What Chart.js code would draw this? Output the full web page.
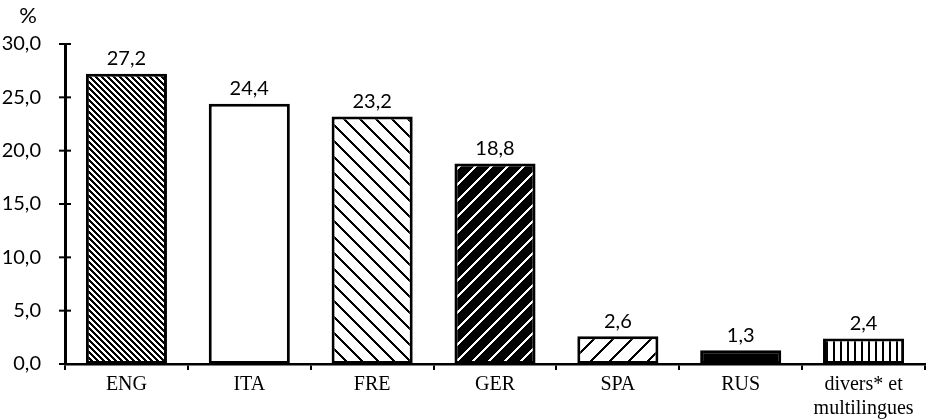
<!DOCTYPE html>
<html>
<head>
<meta charset="utf-8">
<script src="https://cdn.jsdelivr.net/npm/chart.js@4.4.0/dist/chart.umd.min.js"></script>
<style>
  html, body { margin: 0; padding: 0; background: #fff; }
  #wrap { width: 936px; height: 419px; position: relative; }
</style>
</head>
<body>
<div id="wrap"><canvas id="myChart" width="936" height="419"></canvas></div>
<script>
// data
var languages = ['ENG', 'ITA', 'FRE', 'GER', 'SPA', 'RUS', ['divers* et', 'multilingues']];
var shares = [27.2, 24.4, 23.2, 18.8, 2.6, 1.3, 2.4];
var yTicks = [0, 5, 10, 15, 20, 25, 30];
var unitLabel = '%';

var sansFont = "Lato, 'Open Sans', sans-serif";
var serifFont = "'Liberation Serif', 'DejaVu Serif', serif";

function fmt(v, d) {
  return v.toFixed(d).replace('.', ',');
}

// hatch fills, drawn pixel by pixel so the stripes stay crisp
function makePattern(size, ink, w, kind, inverted) {
  var c = document.createElement('canvas');
  c.width = size; c.height = size;
  var x = c.getContext('2d');
  var img = x.createImageData(size, size);
  for (var j = 0; j < size; j++) {
    for (var i = 0; i < size; i++) {
      var k;
      if (kind == 'back') k = ((i - j) % size + size) % size;
      else if (kind == 'fwd') k = (i + j) % size;
      else k = i;
      var on = k < w;
      if (inverted) on = !on;
      var v = on ? ink : 255;
      var p = (j * size + i) * 4;
      img.data[p] = v; img.data[p + 1] = v; img.data[p + 2] = v; img.data[p + 3] = 255;
    }
  }
  x.putImageData(img, 0, 0);
  var ctx = document.getElementById('myChart').getContext('2d');
  return ctx.createPattern(c, 'repeat');
}

var fills = [
  makePattern(6, 0, 3, 'back', false),
  '#fff',
  makePattern(16, 0, 3, 'back', false),
  makePattern(16, 0, 3, 'fwd', true),
  makePattern(19, 0, 3, 'fwd', false),
  '#000',
  makePattern(7, 0, 2, 'vert', false)
];

// value labels, % unit and crossing tick marks
var extras = {
  id: 'extras',
  afterDatasetsDraw: function(chart) {
    var ctx = chart.ctx;
    var meta = chart.getDatasetMeta(0);
    ctx.save();
    ctx.fillStyle = '#000';
    ctx.font = '20px ' + sansFont;
    ctx.textAlign = 'center';
    ctx.textBaseline = 'bottom';
    meta.data.forEach(function(bar, i) {
      ctx.fillText(fmt(shares[i], 1), bar.x, bar.y - 5);
    });
    ctx.font = '22px ' + sansFont;
    ctx.textBaseline = 'middle';
    ctx.fillText(unitLabel, 28, 16);

    var y = chart.scales.y;
    var area = chart.chartArea;
    ctx.strokeStyle = '#000';
    ctx.lineWidth = 2;
    yTicks.forEach(function(t) {
      var py = y.getPixelForValue(t);
      ctx.beginPath();
      ctx.moveTo(area.left - 6, py);
      ctx.lineTo(area.left + 6, py);
      ctx.stroke();
    });
    ctx.restore();
  }
};

new Chart(document.getElementById('myChart'), {
  type: 'bar',
  data: {
    labels: languages,
    datasets: [{
      data: shares,
      backgroundColor: fills,
      borderColor: '#000',
      borderWidth: 3,
      borderSkipped: false,
      categoryPercentage: 1,
      barPercentage: 0.66
    }]
  },
  options: {
    responsive: false,
    animation: false,
    devicePixelRatio: 1,
    layout: { padding: { top: 44, right: 11, left: 0, bottom: 0 } },
    plugins: {
      legend: { display: false },
      tooltip: { enabled: false }
    },
    scales: {
      x: {
        afterFit: function(s) { s.height = 55; },
        grid: {
          drawOnChartArea: false,
          offset: true,
          tickLength: 6,
          color: '#000',
          lineWidth: 2
        },
        border: { color: '#000', width: 2.5 },
        ticks: {
          color: '#000',
          font: { family: serifFont, size: 20 },
          maxRotation: 0,
          autoSkip: false,
          padding: 3
        }
      },
      y: {
        min: 0,
        max: 30,
        afterFit: function(s) { s.width = 65; },
        afterBuildTicks: function(s) {
          s.ticks = yTicks.map(function(v) { return { value: v }; });
        },
        grid: { display: false },
        border: { color: '#000', width: 3 },
        ticks: {
          color: '#000',
          font: { family: sansFont, size: 20 },
          padding: 16,
          callback: function(v) { return fmt(v, 1); }
        }
      }
    }
  },
  plugins: [extras]
});
</script>
</body>
</html>
